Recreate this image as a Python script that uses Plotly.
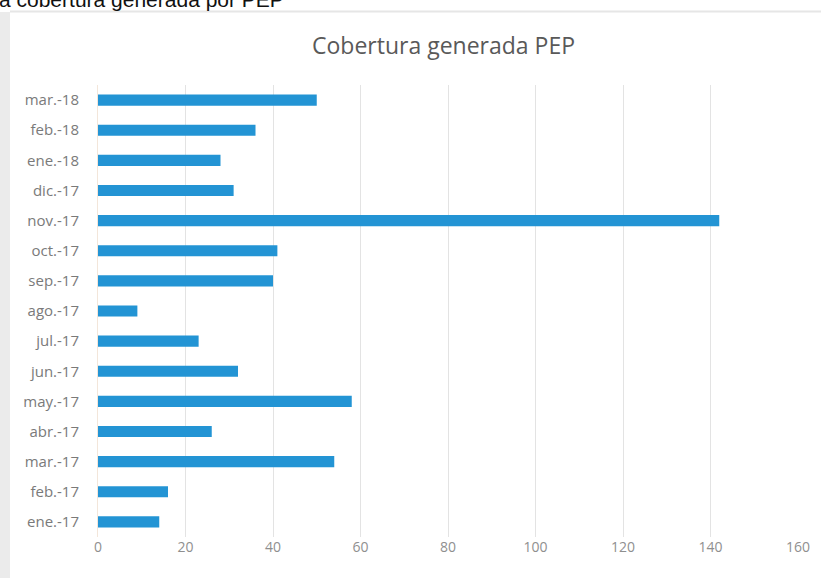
import plotly.graph_objects as go

categories = ["ene.-17", "feb.-17", "mar.-17", "abr.-17", "may.-17", "jun.-17",
              "jul.-17", "ago.-17", "sep.-17", "oct.-17", "nov.-17", "dic.-17",
              "ene.-18", "feb.-18", "mar.-18"]
values = [14, 16, 54, 26, 58, 32, 23, 9, 40, 41, 142, 31, 28, 36, 50]
x_ticks = [0, 20, 40, 60, 80, 100, 120, 140, 160]

W, H = 821, 578
L, R, T, B = 98, 23, 85, 41
pw, ph = W - L - R, H - T - B

def px(x):
    return (x - L) / pw

def py(y):
    return 1 - (y - T) / ph

FONT = "Open Sans, sans-serif"

fig = go.Figure(go.Bar(
    x=values, y=categories, orientation="h",
    marker=dict(color="#2394D4", line=dict(width=0)),
    width=0.37,
))

fig.update_layout(
    width=W, height=H,
    margin=dict(l=L, r=R, t=T, b=B, pad=0),
    paper_bgcolor="white", plot_bgcolor="white",
    font=dict(family=FONT, color="#7f7f7f", size=13),
    showlegend=False,
    xaxis=dict(range=[0, 160], tickvals=x_ticks, showgrid=True, gridcolor="#e3e3e3",
               gridwidth=1, zeroline=False, showline=False, ticks="",
               tickfont=dict(size=14, color="#8f8f8f")),
    yaxis=dict(type="category", categoryorder="array", categoryarray=categories,
               range=[-0.5, 14.5], showgrid=False, zeroline=False,
               showline=True, linecolor="#f3e6da", linewidth=1, ticks="",
               ticklabelstandoff=15,
               tickfont=dict(size=15, color="#7a7a7a")),
    shapes=[
        dict(type="rect", xref="paper", yref="paper", x0=px(0), x1=px(10), y0=py(H), y1=py(12),
             fillcolor="#ebebeb", line=dict(width=0), layer="below"),
        dict(type="line", xref="paper", yref="paper", x0=px(10), x1=px(W), y0=py(11.5), y1=py(11.5),
             line=dict(color="#e6e6e6", width=2), layer="below"),
    ],
    annotations=[
        dict(text="Cobertura generada PEP", xref="paper", yref="paper",
             x=px(443), y=py(45), xanchor="center", yanchor="middle", showarrow=False,
             font=dict(size=23, color="#595959", family=FONT)),
        dict(text="a cobertura generada por PEP", xref="paper", yref="paper",
             x=px(-2), y=py(12), xanchor="left", yanchor="bottom", showarrow=False,
             borderpad=0,
             font=dict(size=21, color="#111111", family="Liberation Sans, Arial, sans-serif")),
    ],
)

fig.write_html("out.html", config={"displayModeBar": False},
               post_script="document.body.style.margin='0';document.body.style.overflow='hidden';")
